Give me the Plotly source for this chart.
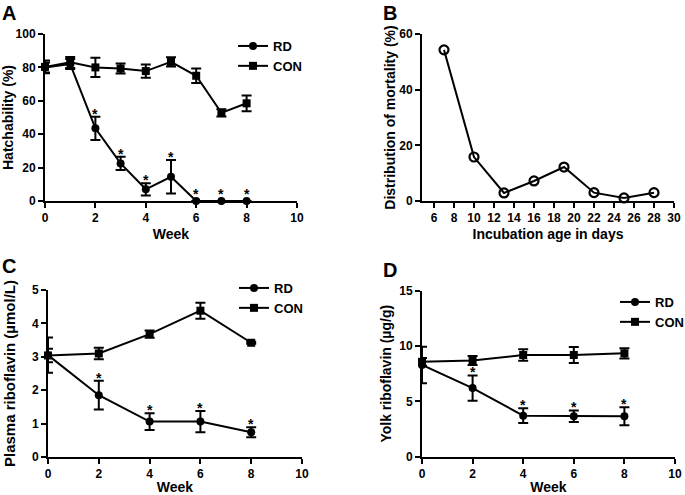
import plotly.graph_objects as go

# ---------------- data ----------------
A_weeks = [0, 1, 2, 3, 4, 5, 6, 7, 8]
A_rd = [80, 82, 43.5, 22.5, 7, 14.5, 0, 0, 0]
A_rd_err = [3, 3, 7, 4, 3.7, 10, 0, 0, 0]
A_con = [80.3, 83, 80, 79.3, 77.8, 83.3, 75, 52.8, 58.5]
A_con_err = [3.8, 3.3, 5.8, 3, 4, 2.8, 4.3, 2.2, 4.7]
A_star_weeks = [2, 3, 4, 5, 6, 7, 8]

B_days = [7, 10, 13, 16, 19, 22, 25, 28]
B_mort = [54.3, 15.8, 2.9, 7.2, 12.2, 3.0, 1.1, 3.0]

C_weeks = [0, 2, 4, 6, 8]
C_rd = [3.05, 1.85, 1.06, 1.06, 0.74]
C_rd_err = [0.53, 0.43, 0.25, 0.32, 0.15]
C_con = [3.04, 3.1, 3.68, 4.38, 3.42]
C_con_err = [0.2, 0.17, 0.11, 0.24, 0.03]
C_star_weeks = [2, 4, 6, 8]

D_weeks = [0, 2, 4, 6, 8]
D_rd = [8.3, 6.2, 3.7, 3.65, 3.65]
D_rd_err = [1.65, 1.15, 0.67, 0.52, 0.82]
D_con = [8.58, 8.7, 9.2, 9.2, 9.35]
D_con_err = [0.35, 0.4, 0.53, 0.72, 0.47]
D_star_weeks = [2, 4, 6, 8]

FONT = "Liberation Sans, Arial, Helvetica, sans-serif"
W, H = 685, 495

fig = go.Figure()


def err(arr):
    return dict(type="data", array=arr, visible=True, color="black",
                thickness=2, width=5)


def add_pair(xs, rd, rd_e, con, con_e, stars, xa, ya, legend):
    fig.add_trace(go.Scatter(
        x=xs, y=rd, error_y=err(rd_e), name="RD", mode="lines+markers",
        line=dict(color="black", width=2),
        marker=dict(symbol="circle", size=8, color="black"),
        xaxis=xa, yaxis=ya, legend=legend, cliponaxis=False))
    fig.add_trace(go.Scatter(
        x=xs, y=con, error_y=err(con_e), name="CON", mode="lines+markers",
        line=dict(color="black", width=2),
        marker=dict(symbol="square", size=8, color="black"),
        xaxis=xa, yaxis=ya, legend=legend, cliponaxis=False))
    for w in stars:
        i = xs.index(w)
        fig.add_annotation(
            x=w, y=rd[i] + rd_e[i], xref=xa, yref=ya, text="*", showarrow=False,
            xanchor="center", yanchor="middle",
            yshift=3 if rd_e[i] > 0 else 7.5,
            font=dict(size=14, color="black", family=FONT, weight="bold"))


add_pair(A_weeks, A_rd, A_rd_err, A_con, A_con_err, A_star_weeks, "x", "y", "legend")
fig.add_trace(go.Scatter(
    x=B_days, y=B_mort, mode="lines+markers", showlegend=False,
    line=dict(color="black", width=2),
    marker=dict(symbol="circle-open", size=9, color="black", line=dict(width=2.2)),
    xaxis="x2", yaxis="y2", cliponaxis=False))
add_pair(C_weeks, C_rd, C_rd_err, C_con, C_con_err, C_star_weeks, "x3", "y3", "legend2")
add_pair(D_weeks, D_rd, D_rd_err, D_con, D_con_err, D_star_weeks, "x4", "y4", "legend3")


def px_x(a, b):
    return [a / W, b / W]


def px_y(top, bottom):
    return [1 - bottom / H, 1 - top / H]


axis_common = dict(showline=True, linecolor="black", linewidth=2, mirror=False,
                   ticks="outside", ticklen=5, tickwidth=2, tickcolor="black",
                   showgrid=False, zeroline=False, automargin=False,
                   tickfont=dict(size=12, family=FONT, color="black", weight="bold"))
title_font = dict(size=14, family=FONT, color="black", weight="bold")
title_font_c = dict(size=15, family=FONT, color="black", weight="bold")
legend_font = dict(size=13, family=FONT, color="black", weight="bold")

fig.update_layout(
    template="none",
    width=W, height=H, margin=dict(l=0, r=0, t=0, b=0, autoexpand=False),
    paper_bgcolor="white", plot_bgcolor="white",
    font=dict(family=FONT, color="black", weight="bold"),
    xaxis=dict(axis_common, domain=px_x(45, 297), range=[0, 10], dtick=2, tick0=0,
               anchor="y", title=dict(text="Week", font=title_font, standoff=5)),
    yaxis=dict(axis_common, domain=px_y(34, 201), range=[0, 100], dtick=20, tick0=0,
               anchor="x", title=dict(text="Hatchability (%)", font=title_font, standoff=4)),
    xaxis2=dict(axis_common, domain=px_x(422, 674), range=[4.8, 30], dtick=2, tick0=0,
                anchor="y2", title=dict(text="Incubation age in days", font=title_font, standoff=5)),
    yaxis2=dict(axis_common, domain=px_y(34, 201), range=[0, 60], dtick=20, tick0=0,
                anchor="x2", title=dict(text="Distribution of mortality (%)", font=title_font, standoff=0)),
    xaxis3=dict(axis_common, domain=px_x(48, 302), range=[0, 10], dtick=2, tick0=0,
                anchor="y3", title=dict(text="Week", font=title_font, standoff=5)),
    yaxis3=dict(axis_common, domain=px_y(290, 457), range=[0, 5], dtick=1, tick0=0,
                anchor="x3", title=dict(text="Plasma riboflavin (µmol/L)", font=title_font_c, standoff=13)),
    xaxis4=dict(axis_common, domain=px_x(422, 675), range=[0, 10], dtick=2, tick0=0,
                anchor="y4", title=dict(text="Week", font=title_font, standoff=5)),
    yaxis4=dict(axis_common, domain=px_y(291, 456.5), range=[0, 15], dtick=5, tick0=0,
                anchor="x4", title=dict(text="Yolk riboflavin (µg/g)", font=title_font, standoff=4)),
    legend=dict(x=233 / W, y=1 - 31 / H, xanchor="left", yanchor="top",
                bgcolor="rgba(0,0,0,0)", font=legend_font,
                itemwidth=30, tracegroupgap=0),
    legend2=dict(x=234 / W, y=1 - 273 / H, xanchor="left", yanchor="top",
                 bgcolor="rgba(0,0,0,0)", font=legend_font,
                 itemwidth=30, tracegroupgap=0),
    legend3=dict(x=615 / W, y=1 - 287 / H, xanchor="left", yanchor="top",
                 bgcolor="rgba(0,0,0,0)", font=legend_font,
                 itemwidth=30, tracegroupgap=0),
)

panel_font = dict(size=20, family=FONT, color="black", weight="bold")
for label, x, y in [("A", 0, 0), ("B", 381, 0), ("C", 0, 253), ("D", 381, 257)]:
    fig.add_annotation(text=label, x=x / W, y=1 - y / H, xref="paper", yref="paper",
                       xanchor="left", yanchor="top", showarrow=False, font=panel_font)

fig.write_html("out.html", config={"displayModeBar": False},
               post_script="document.body.style.margin='0';document.body.style.overflow='hidden';")
